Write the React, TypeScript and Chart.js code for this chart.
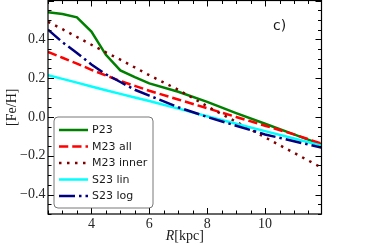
import React, { useEffect, useRef } from 'react';
import { Chart, registerables } from 'chart.js';

Chart.register(...registerables);

// Galactocentric radius samples [kpc]
const R_KPC = [2.5, 3, 3.5, 4, 4.5, 5, 5.5, 6, 7, 8, 9, 10, 11, 12];

// [Fe/H] per series
const P23 = [0.54, 0.53, 0.513, 0.44, 0.32, 0.24, 0.205, 0.173, 0.13, 0.078, 0.02, -0.035, -0.09, -0.145];
const M23_ALL = [0.335, 0.305, 0.275, 0.243, 0.214, 0.185, 0.16, 0.135, 0.09, 0.045, 0.0, -0.045, -0.09, -0.14];
const M23_INNER = [0.49, 0.452, 0.412, 0.372, 0.333, 0.295, 0.255, 0.215, 0.14, 0.055, -0.025, -0.105, -0.185, -0.265];
const S23_LIN = [0.215, 0.196, 0.177, 0.157, 0.138, 0.119, 0.1, 0.082, 0.043, 0.004, -0.035, -0.073, -0.111, -0.15];
const S23_LOG = [0.45, 0.385, 0.33, 0.27, 0.22, 0.18, 0.14, 0.11, 0.05, 0.0, -0.045, -0.09, -0.125, -0.16];

const LABELS = ['P23', 'M23 all', 'M23 inner', 'S23 lin', 'S23 log'];
const COLORS = ['#008000', '#ff0000', '#800000', '#00ffff', '#000080'];
const DASHES: number[][] = [[], [9.25, 4], [2.5, 5.5], [], [16, 4, 2.5, 4]];
const SERIES = [P23, M23_ALL, M23_INNER, S23_LIN, S23_LOG];

const X_MIN = 2.5;
const X_MAX = 11.95;
const Y_MIN = -0.5;
const Y_MAX = 0.6;

const SERIF = '"Liberation Serif", "Times New Roman", serif';
const SANS = '"DejaVu Sans", sans-serif';

const decor = {
  id: 'decor',
  afterDraw(chart: any) {
    const { ctx, chartArea: a, scales } = chart;
    const xs = scales.x;
    const ys = scales.y;
    ctx.save();
    // frame
    ctx.strokeStyle = '#000';
    ctx.lineWidth = 1.2;
    ctx.setLineDash([]);
    ctx.strokeRect(a.left, a.top, a.right - a.left, a.bottom - a.top);

    // x ticks (inward, bottom & top)
    ctx.lineWidth = 1;
    for (let i = 0; ; i++) {
      const v = X_MIN + i * 0.5;
      if (v > X_MAX + 1e-9) break;
      const major = Math.abs(v / 2 - Math.round(v / 2)) < 1e-6;
      const len = major ? 6 : 3.5;
      const px = Math.round(xs.getPixelForValue(v)) + 0.5;
      ctx.beginPath();
      ctx.moveTo(px, a.bottom);
      ctx.lineTo(px, a.bottom - len);
      ctx.moveTo(px, a.top);
      ctx.lineTo(px, a.top + len);
      ctx.stroke();
    }
    // y ticks (inward, left & right)
    for (let i = 0; ; i++) {
      const v = Y_MIN + i * 0.05;
      if (v > Y_MAX + 1e-9) break;
      const major = Math.abs(v / 0.2 - Math.round(v / 0.2)) < 1e-6;
      const len = major ? 6 : 3.5;
      const py = Math.round(ys.getPixelForValue(v)) + 0.5;
      ctx.beginPath();
      ctx.moveTo(a.left, py);
      ctx.lineTo(a.left + len, py);
      ctx.moveTo(a.right, py);
      ctx.lineTo(a.right - len, py);
      ctx.stroke();
    }

    // panel label
    ctx.fillStyle = '#1a1a1a';
    ctx.font = `14px ${SANS}`;
    ctx.textAlign = 'left';
    ctx.textBaseline = 'alphabetic';
    ctx.fillText('c)', 273, 29.5);

    // x title: R[kpc]
    ctx.fillStyle = '#1a1a1a';
    ctx.font = `italic 14px ${SERIF}`;
    const rW = ctx.measureText('R').width;
    ctx.font = `14px ${SERIF}`;
    const kW = ctx.measureText('[kpc]').width;
    const cx = (a.left + a.right) / 2;
    const x0 = cx - (rW + kW) / 2;
    ctx.font = `italic 14px ${SERIF}`;
    ctx.fillText('R', x0, 240);
    ctx.font = `14px ${SERIF}`;
    ctx.fillText('[kpc]', x0 + rW, 240);

    // y title
    ctx.save();
    ctx.translate(16, (a.top + a.bottom) / 2);
    ctx.rotate(-Math.PI / 2);
    ctx.textAlign = 'center';
    ctx.textBaseline = 'alphabetic';
    ctx.font = `14px ${SERIF}`;
    ctx.fillText('[Fe/H]', 0, 0);
    ctx.restore();

    // legend
    const bx = 54, by = 117, bw = 99, bh = 91, r = 4;
    ctx.beginPath();
    ctx.moveTo(bx + r, by);
    ctx.arcTo(bx + bw, by, bx + bw, by + bh, r);
    ctx.arcTo(bx + bw, by + bh, bx, by + bh, r);
    ctx.arcTo(bx, by + bh, bx, by, r);
    ctx.arcTo(bx, by, bx + bw, by, r);
    ctx.closePath();
    ctx.fillStyle = 'rgba(255,255,255,0.9)';
    ctx.fill();
    ctx.strokeStyle = '#555';
    ctx.lineWidth = 0.8;
    ctx.stroke();

    chart.data.datasets.forEach((ds: any, i: number) => {
      const cy = 130 + i * 16.5;
      ctx.beginPath();
      ctx.strokeStyle = ds.borderColor;
      ctx.lineWidth = ds.borderWidth;
      ctx.setLineDash(ds.borderDash || []);
      ctx.lineCap = 'butt';
      ctx.moveTo(59, cy);
      ctx.lineTo(88, cy);
      ctx.stroke();
      ctx.setLineDash([]);
      ctx.fillStyle = '#1a1a1a';
      ctx.font = `11px ${SANS}`;
      ctx.textAlign = 'left';
      ctx.textBaseline = 'middle';
      ctx.fillText(ds.label, 92, cy + 0.5);
    });
    ctx.restore();
  },
};

export default function App() {
  const ref = useRef<HTMLCanvasElement>(null);
  useEffect(() => {
    if (!ref.current) return;
    const fmt = (v: number) => (v < -1e-9 ? '\u2212' : '') + Math.abs(v).toFixed(1);
    const chart = new Chart(ref.current, {
      type: 'line',
      data: {
        datasets: SERIES.map((s, i) => ({
          label: LABELS[i],
          data: R_KPC.map((x, j) => ({ x, y: s[j] })),
          borderColor: COLORS[i],
          backgroundColor: COLORS[i],
          borderWidth: 2.5,
          borderDash: DASHES[i],
          pointRadius: 0,
          tension: 0,
          fill: false,
          clip: 0,
          order: SERIES.length - i,
        })),
      },
      options: {
        responsive: false,
        animation: false,
        devicePixelRatio: 1,
        layout: { padding: { top: 0.5, right: 68.5, left: 0, bottom: 0 } },
        plugins: { legend: { display: false }, tooltip: { enabled: false } },
        scales: {
          x: {
            type: 'linear',
            min: X_MIN,
            max: X_MAX,
            afterFit: (s: any) => {
              s.height = 30;
              s.paddingLeft = 0;
              s.paddingRight = 0;
              s.paddingTop = 0;
              s.paddingBottom = 0;
            },
            grid: { display: false, drawTicks: false },
            border: { display: false },
            ticks: {
              stepSize: 2,
              includeBounds: false,
              padding: 2,
              color: '#262626',
              font: { family: SERIF, size: 14 },
              callback: (v: any) => String(v),
            },
          },
          y: {
            type: 'linear',
            min: Y_MIN,
            max: Y_MAX,
            afterFit: (s: any) => {
              s.width = 48;
              s.paddingLeft = 0;
              s.paddingRight = 0;
              s.paddingTop = 0;
              s.paddingBottom = 0;
            },
            grid: { display: false, drawTicks: false },
            border: { display: false },
            ticks: {
              stepSize: 0.2,
              includeBounds: false,
              padding: 2.5,
              color: '#262626',
              font: { family: SERIF, size: 14 },
              callback: (v: any) => fmt(Number(v)),
            },
          },
        },
      },
      plugins: [decor],
    });
    return () => chart.destroy();
  }, []);
  return (
    <div style={{ position: 'fixed', left: 0, top: 0, width: 390, height: 244, background: '#fff' }}>
      <canvas ref={ref} width={390} height={244} style={{ display: 'block' }} />
    </div>
  );
}
